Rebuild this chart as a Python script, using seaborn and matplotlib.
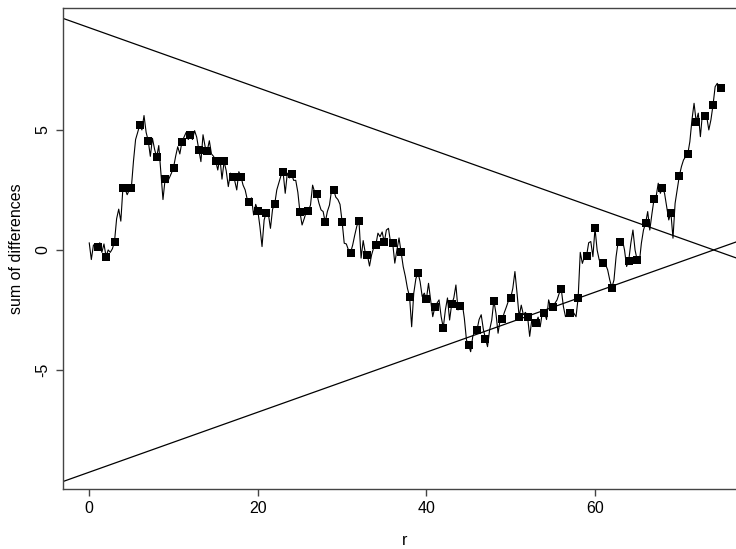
"""
Cumulative sum of differences against r, with the two straight boundary lines.
"""
import numpy as np
import pandas as pd
import matplotlib
matplotlib.use('Agg')
import matplotlib.pyplot as plt
import seaborn as sns

# series values, four per unit of r (r = 0, 0.25, ..., 75)
line_y = [
    0.30, -0.40, 0.20, 0.25,
    0.11, 0.30, -0.10, 0.25,
    -0.28, 0.00, -0.10, 0.05,
    0.35, 1.30, 1.70, 1.20,
    2.60, 2.55, 2.30, 2.50,
    2.60, 3.70, 4.60, 4.90,
    5.22, 5.00, 5.60, 4.90,
    4.55, 3.90, 4.65, 4.20,
    3.86, 4.35, 3.20, 2.10,
    2.94, 2.80, 3.00, 3.20,
    3.43, 3.90, 4.30, 4.00,
    4.51, 4.70, 4.90, 4.60,
    4.79, 4.60, 4.97, 4.70,
    4.17, 3.68, 4.80, 4.30,
    4.14, 4.55, 4.00, 3.90,
    3.72, 3.33, 3.85, 2.95,
    3.69, 3.30, 2.64, 3.20,
    3.03, 2.90, 2.50, 3.26,
    3.05, 2.70, 2.50, 2.10,
    2.01, 2.17, 1.46, 1.90,
    1.64, 0.97, 0.14, 1.25,
    1.56, 1.50, 0.90, 1.70,
    1.90, 2.50, 2.80, 3.10,
    3.24, 2.36, 3.20, 3.00,
    3.17, 2.90, 2.90, 2.40,
    1.57, 1.04, 1.30, 1.60,
    1.64, 1.87, 2.70, 2.40,
    2.33, 1.95, 1.67, 1.60,
    1.15, 1.60, 1.87, 2.50,
    2.50, 2.20, 2.10, 1.90,
    1.18, 0.28, 0.25, 0.00,
    -0.11, 0.20, 0.62, 1.00,
    1.22, -0.34, 0.39, -0.13,
    -0.21, -0.67, -0.20, 0.10,
    0.21, 0.70, 0.55, 0.75,
    0.32, 0.83, 0.90, 0.30,
    0.28, -0.55, 0.00, 0.50,
    -0.10, -0.70, -1.10, -1.60,
    -1.94, -3.20, -1.80, -1.20,
    -0.94, -1.32, -1.94, -1.80,
    -2.04, -1.39, -2.10, -2.78,
    -2.39, -2.22, -2.08, -2.78,
    -3.24, -2.50, -2.00, -2.92,
    -2.25, -2.00, -1.46, -2.50,
    -2.33, -2.22, -2.85, -3.75,
    -3.96, -4.24, -3.60, -3.40,
    -3.33, -2.90, -2.70, -3.30,
    -3.69, -4.03, -3.33, -2.92,
    -2.11, -2.64, -3.47, -2.90,
    -2.88, -2.60, -2.36, -2.10,
    -1.99, -1.60, -0.90, -1.80,
    -2.78, -2.30, -2.70, -2.60,
    -2.78, -3.60, -2.92, -3.19,
    -3.03, -2.80, -3.20, -2.60,
    -2.61, -2.90, -2.08, -2.40,
    -2.39, -2.22, -2.08, -1.81,
    -1.64, -2.36, -2.78, -2.64,
    -2.64, -2.50, -2.64, -2.78,
    -1.99, -0.10, -0.56, -0.28,
    -0.24, 0.30, 0.35, -0.28,
    0.90, 0.00, -0.42, -0.49,
    -0.56, -0.60, -0.83, -1.25,
    -1.57, -1.25, -0.28, 0.35,
    0.35, 0.42, 0.00, -0.69,
    -0.44, 0.28, 0.83, 0.00,
    -0.42, -0.55, 0.28, 0.83,
    1.11, 1.60, 0.83, 1.50,
    2.11, 2.22, 2.78, 2.36,
    2.60, 2.36, 1.81, 1.25,
    1.56, 0.49, 1.94, 2.50,
    3.08, 3.47, 3.75, 3.89,
    3.99, 4.51, 5.42, 6.11,
    5.35, 5.70, 4.72, 5.70,
    5.60, 5.56, 5.00, 5.42,
    6.04, 6.80, 6.94, 6.80,
    6.74,
]
line_r = np.arange(len(line_y)) * 0.25

# boundaries: +/-(h - d * r)
boundary_h = 9.26
boundary_d = 0.125

x_ticks = [0, 20, 40, 60]
y_ticks = [-5, 0, 5]
y_tick_labels = ['-5', '0', '5']


def plot():
    sns.set_style('white')
    plt.rcParams['font.family'] = ['Liberation Sans', 'DejaVu Sans']
    plt.rcParams['text.color'] = 'black'
    plt.rcParams['axes.labelcolor'] = 'black'
    plt.rcParams['xtick.color'] = 'black'
    plt.rcParams['ytick.color'] = 'black'

    data = pd.DataFrame({'r': line_r, 'sum': line_y})
    points = data[(data['r'] % 1 == 0) & (data['r'] > 0)]

    fig = plt.figure(figsize=(7.36, 5.49), dpi=100)
    ax = fig.add_axes([0.0856, 0.1093, 0.929, 0.8761])

    sns.lineplot(data=data, x='r', y='sum', ax=ax, color='black',
                 linewidth=0.8, errorbar=None)
    sns.scatterplot(data=points, x='r', y='sum', ax=ax, color='black',
                    marker='s', s=32, linewidth=0, zorder=3)

    ax.axline((0, boundary_h), slope=-boundary_d, color='black', linewidth=0.9)
    ax.axline((0, -boundary_h), slope=boundary_d, color='black', linewidth=0.9)

    ax.set_xlim(-3.11, 78.0)
    ax.set_ylim(-9.96, 10.08)
    ax.set_xticks(x_ticks)
    ax.set_yticks(y_ticks)
    ax.set_yticklabels(y_tick_labels)

    for side in ['left', 'bottom', 'top', 'right']:
        ax.spines[side].set_color('#444444')
        ax.spines[side].set_linewidth(1.0)

    ax.tick_params(axis='both', direction='out', length=5, width=1,
                   color='#444444', labelcolor='black', labelsize=11.5, pad=4,
                   bottom=True, left=True)
    ax.tick_params(axis='y', labelrotation=90)
    for label in ax.get_yticklabels():
        label.set_va('center')

    ax.set_xlabel('r', fontsize=11.5, labelpad=12)
    ax.set_ylabel('sum of differences', fontsize=11.5, labelpad=8)

    fig.savefig('out.png', dpi=100)


if __name__ == '__main__':
    plot()
